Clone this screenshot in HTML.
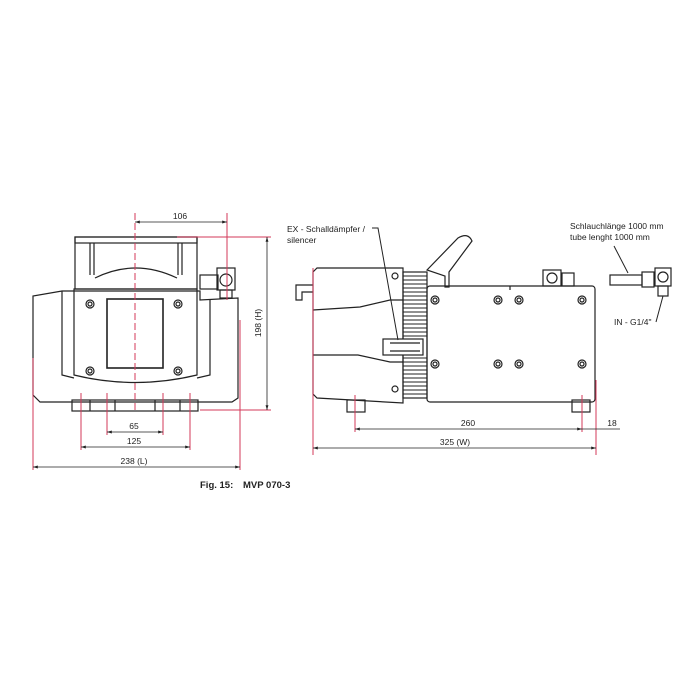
<!DOCTYPE html>
<html><head><meta charset="utf-8"><style>
html,body{margin:0;padding:0;background:#fff;}
svg{display:block;}
text{font-family:"Liberation Sans",sans-serif;fill:#222;}
</style></head><body>
<svg width="700" height="700" viewBox="0 0 700 700" xmlns="http://www.w3.org/2000/svg">
<defs>
<marker id="a" viewBox="0 0 10 10" refX="10" refY="5" markerWidth="6" markerHeight="6" orient="auto-start-reverse"><path d="M0,2 L10,5 L0,8 z" fill="#222"/></marker>
</defs>
<g fill="none" stroke="#222" stroke-width="1.2">
<!-- LEFT VIEW -->
<rect x="75" y="237" width="122" height="6"/>
<rect x="75" y="237" width="122" height="52"/>
<line x1="90" y1="243" x2="90" y2="275"/><line x1="94" y1="243" x2="94" y2="275"/>
<line x1="178" y1="243" x2="178" y2="275"/><line x1="182" y1="243" x2="182" y2="275"/>
<path d="M95,278 Q135,258 177,278"/>
<path d="M62,291 L200,291 L200,300 L238,298 L238,398 L232,402 L40,402 L33,395 L33,296 Z"/>
<path d="M74,289 L197,289 L197,375 Q135,390 74,375 Z"/>
<path d="M62,291 L62,375 L74,378"/><path d="M210,300 L210,375 L197,378"/>
<rect x="107" y="299" width="56" height="69" stroke-width="1.6"/>
<circle cx="90" cy="304" r="4"/><circle cx="90" cy="304" r="2"/>
<circle cx="178" cy="304" r="4"/><circle cx="178" cy="304" r="2"/>
<circle cx="90" cy="371" r="4"/><circle cx="90" cy="371" r="2"/>
<circle cx="178" cy="371" r="4"/><circle cx="178" cy="371" r="2"/>
<rect x="72" y="400" width="126" height="11"/>
<line x1="90" y1="400" x2="90" y2="411"/><line x1="115" y1="400" x2="115" y2="411"/>
<line x1="155" y1="400" x2="155" y2="411"/><line x1="180" y1="400" x2="180" y2="411"/>
<rect x="200" y="275" width="18" height="14"/>
<rect x="217" y="268" width="18" height="22"/><circle cx="226" cy="280" r="6"/>
<rect x="220" y="290" width="12" height="8"/>
<!-- RIGHT VIEW -->
<path d="M313,285 L296,285 L296,300 L302,300 L302,292 L313,292"/>
<path d="M317,268 L403,268 L403,403 L317,398 L313,394 L313,272 Z"/>
<path d="M313,310 L360,307 L390,300 L403,300"/>
<path d="M313,355 L358,355 L390,362 L403,362"/>
<circle cx="395" cy="276" r="3"/><circle cx="395" cy="389" r="3"/>
<rect x="403" y="272" width="24" height="126"/>
<g stroke-width="1">
<line x1="403" y1="276" x2="427" y2="276"/><line x1="403" y1="280" x2="427" y2="280"/><line x1="403" y1="284" x2="427" y2="284"/><line x1="403" y1="288" x2="427" y2="288"/><line x1="403" y1="292" x2="427" y2="292"/><line x1="403" y1="296" x2="427" y2="296"/><line x1="403" y1="300" x2="427" y2="300"/><line x1="403" y1="304" x2="427" y2="304"/><line x1="403" y1="308" x2="427" y2="308"/><line x1="403" y1="312" x2="427" y2="312"/><line x1="403" y1="316" x2="427" y2="316"/><line x1="403" y1="320" x2="427" y2="320"/><line x1="403" y1="324" x2="427" y2="324"/><line x1="403" y1="328" x2="427" y2="328"/><line x1="403" y1="332" x2="427" y2="332"/><line x1="403" y1="336" x2="427" y2="336"/>
<line x1="403" y1="358" x2="427" y2="358"/><line x1="403" y1="362" x2="427" y2="362"/><line x1="403" y1="366" x2="427" y2="366"/><line x1="403" y1="370" x2="427" y2="370"/><line x1="403" y1="374" x2="427" y2="374"/><line x1="403" y1="378" x2="427" y2="378"/><line x1="403" y1="382" x2="427" y2="382"/><line x1="403" y1="386" x2="427" y2="386"/><line x1="403" y1="390" x2="427" y2="390"/><line x1="403" y1="394" x2="427" y2="394"/>
</g>
<rect x="383" y="339" width="40" height="16" fill="#fff"/>
<line x1="390" y1="343" x2="420" y2="343"/><line x1="390" y1="351" x2="420" y2="351"/>
<path d="M427,270 L458,238 Q468,232 472,241 L449,272 L449,287 L445,287 L445,276 Z" fill="#fff"/>
<rect x="427" y="286" width="168" height="116" rx="3"/>
<line x1="510" y1="286" x2="510" y2="290"/>
<g>
<circle cx="435" cy="300" r="4"/><circle cx="435" cy="300" r="2"/>
<circle cx="498" cy="300" r="4"/><circle cx="498" cy="300" r="2"/>
<circle cx="519" cy="300" r="4"/><circle cx="519" cy="300" r="2"/>
<circle cx="582" cy="300" r="4"/><circle cx="582" cy="300" r="2"/>
<circle cx="435" cy="364" r="4"/><circle cx="435" cy="364" r="2"/>
<circle cx="498" cy="364" r="4"/><circle cx="498" cy="364" r="2"/>
<circle cx="519" cy="364" r="4"/><circle cx="519" cy="364" r="2"/>
<circle cx="582" cy="364" r="4"/><circle cx="582" cy="364" r="2"/>
</g>
<rect x="347" y="400" width="18" height="12"/>
<rect x="572" y="400" width="18" height="12"/>
<rect x="543" y="270" width="18" height="16"/><circle cx="552" cy="278" r="5"/>
<rect x="562" y="273" width="12" height="13"/>
<rect x="610" y="275" width="32" height="10"/>
<rect x="642" y="272" width="12" height="15"/>
<rect x="655" y="268" width="16" height="18"/><circle cx="663" cy="277" r="5"/>
<rect x="658" y="286" width="10" height="10"/>
<path d="M372,228 L378,228 L398,340" stroke-width="1"/>
<path d="M614,246 L628,273" stroke-width="1"/>
<path d="M656,322 L663,296" stroke-width="1"/>
</g>
<!-- RED LINES -->
<g stroke="#d3385a" stroke-width="1" fill="none">
<line x1="135" y1="213" x2="135" y2="413" stroke-dasharray="7,3"/>
<line x1="227" y1="213" x2="227" y2="300"/>
<line x1="177" y1="237" x2="271" y2="237"/>
<line x1="200" y1="410" x2="271" y2="410"/>
<line x1="107" y1="393" x2="107" y2="435"/><line x1="163" y1="393" x2="163" y2="435"/>
<line x1="81" y1="393" x2="81" y2="450"/><line x1="190" y1="393" x2="190" y2="450"/>
<line x1="33" y1="358" x2="33" y2="470"/><line x1="240" y1="320" x2="240" y2="470"/>
<line x1="313" y1="268" x2="313" y2="455"/><line x1="596" y1="380" x2="596" y2="455"/>
<line x1="355" y1="395" x2="355" y2="432"/><line x1="582" y1="395" x2="582" y2="432"/>
</g>
<g stroke="#222" stroke-width="0.8" marker-start="url(#a)" marker-end="url(#a)">
<line x1="135" y1="222" x2="227" y2="222"/>
<line x1="267" y1="237" x2="267" y2="410"/>
<line x1="107" y1="432" x2="163" y2="432"/>
<line x1="81" y1="447" x2="190" y2="447"/>
<line x1="33" y1="467" x2="240" y2="467"/>
<line x1="355" y1="429" x2="582" y2="429"/>
<line x1="313" y1="448" x2="596" y2="448"/>
</g>
<g stroke="#222" stroke-width="0.8">
<line x1="582" y1="429" x2="620" y2="429"/>
</g>
<g font-size="8.5" text-anchor="middle">
<text x="180" y="219">106</text>
<text x="134" y="429">65</text>
<text x="134" y="444">125</text>
<text x="134" y="464">238 (L)</text>
<text transform="translate(261,323) rotate(-90)">198 (H)</text>
<text x="468" y="426">260</text>
<text x="612" y="426">18</text>
<text x="455" y="445">325 (W)</text>
</g>
<g font-size="8.5">
<text x="287" y="232">EX - Schalldämpfer /</text>
<text x="287" y="243">silencer</text>
<text x="570" y="229">Schlauchlänge 1000 mm</text>
<text x="570" y="240">tube lenght 1000 mm</text>
<text x="614" y="325">IN - G1/4"</text>
</g>
<text x="200" y="488" font-size="9.5" font-weight="bold">Fig. 15:</text>
<text x="243" y="488" font-size="9.5" font-weight="bold">MVP 070-3</text>
</svg>
</body></html>
